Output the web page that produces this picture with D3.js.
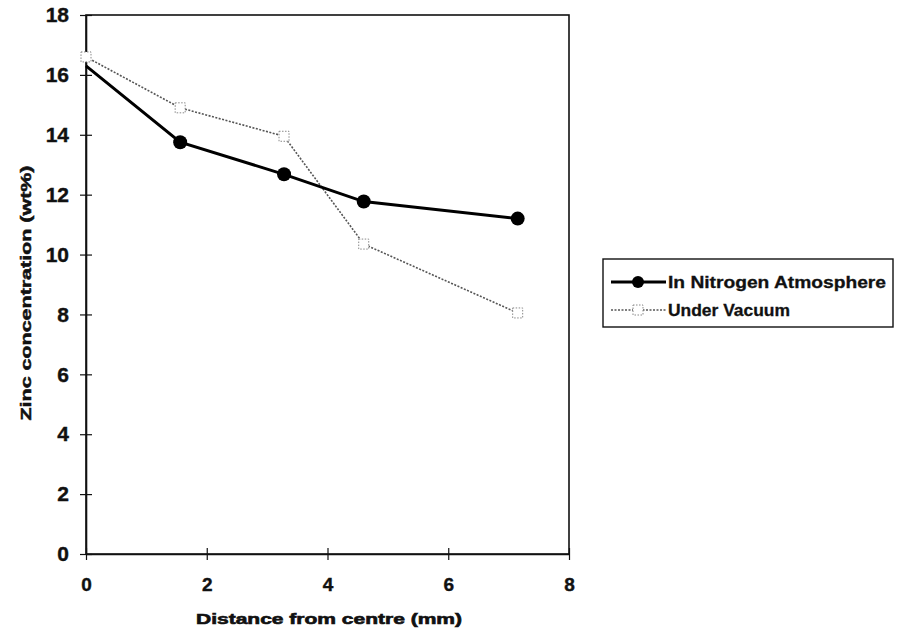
<!DOCTYPE html>
<html><head><meta charset="utf-8">
<script src="https://cdn.jsdelivr.net/npm/d3@7/dist/d3.min.js"></script>
<style>body{margin:0;background:#fff}svg{display:block}text{font-family:"Liberation Sans",Arial,sans-serif;font-weight:bold;fill:#111}</style>
</head><body>
<script>
const xValues = [0, 1.56, 3.28, 4.6, 7.15];
const nitrogen = [16.3, 13.75, 12.68, 11.77, 11.2];
const vacuum = [16.6, 14.9, 13.95, 10.35, 8.05];
const xTicks = [0, 2, 4, 6, 8];
const yTicks = [0, 2, 4, 6, 8, 10, 12, 14, 16, 18];
const seriesNames = ["In Nitrogen Atmosphere", "Under Vacuum"];

const W = 905, H = 637;
const svg = d3.select("body").append("svg").attr("width", W).attr("height", H);
const x = d3.scaleLinear().domain([0, 8]).range([86, 569]);
const y = d3.scaleLinear().domain([0, 18]).range([554, 15]);

// frame
svg.append("rect").attr("x", x(0)).attr("y", y(18)).attr("width", x(8) - x(0)).attr("height", y(0) - y(18))
  .attr("fill", "none").attr("stroke", "#111").attr("stroke-width", 1.6);

// axes
const yAxis = d3.axisLeft(y).tickValues(yTicks).tickSizeInner(6).tickSizeOuter(0).tickPadding(11);
const gy = svg.append("g").attr("transform", `translate(${x(0)},0)`).call(yAxis);
gy.attr("font-size", 21).attr("font-family", "Liberation Sans, Arial");
gy.selectAll(".tick line").attr("x2", 6).attr("x1", -6).attr("stroke", "#111").attr("stroke-width", 1.2);
gy.select(".domain").attr("stroke", "#111").attr("stroke-width", 1.6);
gy.selectAll("text").style("font-size", "21px").attr("fill", "#111").attr("stroke", "#111").attr("stroke-width", 0.4);

const xAxis = d3.axisBottom(x).tickValues(xTicks).tickSizeInner(6).tickSizeOuter(0).tickPadding(18);
const gx = svg.append("g").attr("transform", `translate(0,${y(0)})`).call(xAxis);
gx.attr("font-size", 19).attr("font-family", "Liberation Sans, Arial");
gx.selectAll(".tick line").attr("y1", -6).attr("y2", 6).attr("stroke", "#111").attr("stroke-width", 1.2);
gx.select(".domain").attr("stroke", "#111").attr("stroke-width", 1.6);
gx.selectAll("text").style("font-size", "19px").attr("fill", "#111").attr("stroke", "#111").attr("stroke-width", 0.4);

// axis titles
svg.append("text").attr("x", 329).attr("y", 624).attr("text-anchor", "middle").style("font-size", "14px")
  .attr("stroke", "#111").attr("stroke-width", 0.6)
  .attr("textLength", 266).attr("lengthAdjust", "spacingAndGlyphs").text("Distance from centre (mm)");
svg.append("text").attr("transform", "translate(31,293) rotate(-90)").attr("text-anchor", "middle").style("font-size", "15px")
  .attr("stroke", "#111").attr("stroke-width", 0.5)
  .attr("textLength", 255).attr("lengthAdjust", "spacingAndGlyphs").text("Zinc concentration (wt%)");

const line = d3.line().x(d => x(d[0])).y(d => y(d[1]));
const nData = xValues.map((v, i) => [v, nitrogen[i]]);
const vData = xValues.map((v, i) => [v, vacuum[i]]);

// vacuum series
svg.append("path").datum(vData).attr("d", line).attr("fill", "none").attr("stroke", "#555")
  .attr("stroke-width", 1.6).attr("stroke-dasharray", "2,1.5");
svg.selectAll(".vm").data(vData).enter().append("rect").attr("class", "vm")
  .attr("x", d => x(d[0]) - 5).attr("y", d => y(d[1]) - 5).attr("width", 10).attr("height", 10)
  .attr("fill", "#fff").attr("stroke", "#888").attr("stroke-width", 1).attr("stroke-dasharray", "1.5,1.5");

// nitrogen series
svg.append("path").datum(nData).attr("d", line).attr("fill", "none").attr("stroke", "#000").attr("stroke-width", 3);
svg.selectAll(".nm").data(nData.slice(1)).enter().append("circle").attr("class", "nm")
  .attr("cx", d => x(d[0])).attr("cy", d => y(d[1])).attr("r", 7).attr("fill", "#000");

// legend
const lg = svg.append("g");
lg.append("rect").attr("x", 603).attr("y", 259).attr("width", 290).attr("height", 68)
  .attr("fill", "#fff").attr("stroke", "#111").attr("stroke-width", 1.4);
lg.append("line").attr("x1", 611).attr("x2", 666).attr("y1", 282).attr("y2", 282).attr("stroke", "#000").attr("stroke-width", 3);
lg.append("circle").attr("cx", 638).attr("cy", 282).attr("r", 6).attr("fill", "#000");
lg.append("text").attr("x", 668).attr("y", 288).style("font-size", "16px").attr("stroke", "#111").attr("stroke-width", 0.3)
  .attr("textLength", 218).attr("lengthAdjust", "spacingAndGlyphs").text(seriesNames[0]);
lg.append("line").attr("x1", 611).attr("x2", 666).attr("y1", 310).attr("y2", 310).attr("stroke", "#555").attr("stroke-width", 1.4).attr("stroke-dasharray", "2,1.5");
lg.append("rect").attr("x", 633).attr("y", 305).attr("width", 10).attr("height", 10).attr("fill", "#fff").attr("stroke", "#888").attr("stroke-dasharray", "1.5,1.5");
lg.append("text").attr("x", 668).attr("y", 316).style("font-size", "16px").attr("stroke", "#111").attr("stroke-width", 0.3)
  .attr("textLength", 122).attr("lengthAdjust", "spacingAndGlyphs").text(seriesNames[1]);
</script>
</body></html>
